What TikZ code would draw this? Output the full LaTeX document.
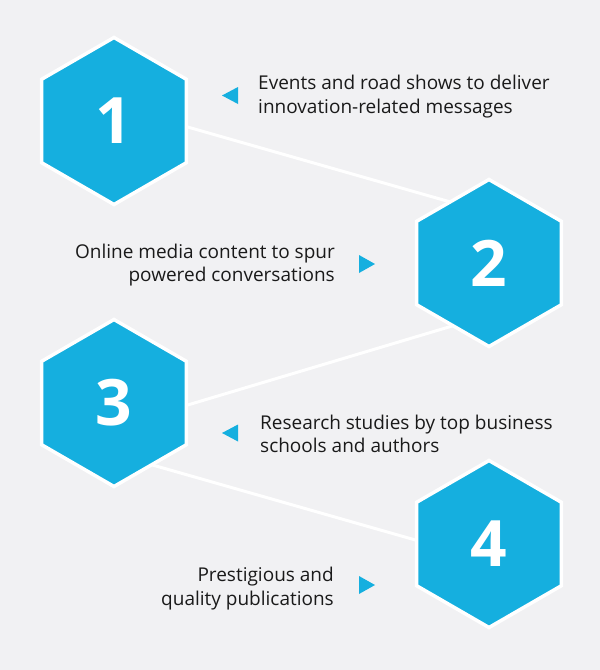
\documentclass[tikz,border=0pt]{standalone}
\usepackage{fontspec}
\setmainfont{Open Sans}
\usetikzlibrary{shapes.geometric,calc,backgrounds}
\definecolor{hexblue}{RGB}{21,175,223}
\definecolor{bggray}{RGB}{241,241,243}
\definecolor{txt}{RGB}{26,26,26}
\begin{document}
\begin{tikzpicture}[x=1pt,y=-1pt,
  hexa/.style={regular polygon, regular polygon sides=6, shape border rotate=30,
    minimum size=167pt, inner sep=0pt, fill=hexblue, draw=white, line width=3.5pt,
    text=white, font=\fontsize{64}{64}\selectfont\bfseries},
  link/.style={draw=white, line width=3pt},
  lbl/.style={font=\fontsize{19}{23.5}\selectfont, text=txt, inner sep=0pt},
  tri/.style={fill=hexblue}]
\useasboundingbox (0,0) rectangle (600,670);
\node[hexa] (h1) at (114,121) {1};
\node[hexa] (h2) at (489,263) {2};
\node[hexa] (h3) at (114,403) {3};
\node[hexa] (h4) at (489,544) {4};
\begin{scope}[on background layer]
  \fill[bggray] (0,0) rectangle (600,670);
  \draw[link] ($(h1.center)+(0,-15)$) -- ($(h2.center)+(0,-50)$);
  \draw[link] ($(h2.center)+(0,52)$) -- ($(h3.center)+(0,24)$);
  \draw[link] ($(h3.center)+(0,51)$) -- ($(h4.center)+(0,17)$);
\end{scope}
\node[lbl, align=left, anchor=west] (t1) at (258,96.5) {Events and road shows to deliver\\innovation-related messages};
\node[lbl, align=right, anchor=east] (t2) at (335,265) {Online media content to spur\\powered conversations};
\node[lbl, align=left, anchor=west] (t3) at (260,433.8) {Research studies by top business\\schools and authors};
\node[lbl, align=right, anchor=east] (t4) at (334,588.8) {Prestigious and\\quality publications};
\fill[tri] (238,87) -- (238,104) -- (222,95.5) -- cycle;
\fill[tri] (359,255) -- (359,273) -- (375,264) -- cycle;
\fill[tri] (238,424.5) -- (238,441.5) -- (222,433) -- cycle;
\fill[tri] (359,576) -- (359,594) -- (375,585) -- cycle;
\end{tikzpicture}
\end{document}
